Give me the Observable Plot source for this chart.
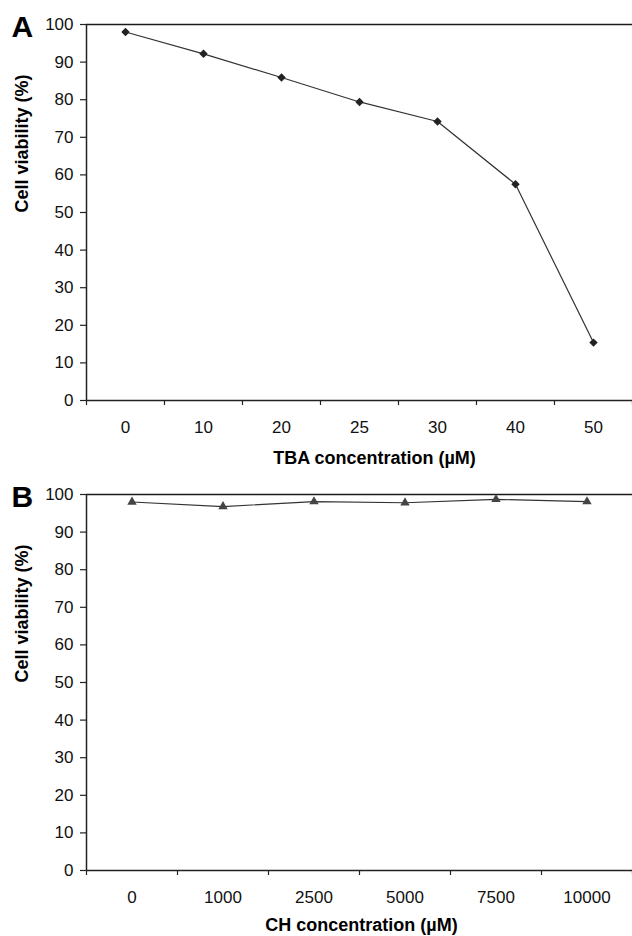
<!DOCTYPE html>
<html><head><meta charset="utf-8">
<script src="https://cdn.jsdelivr.net/npm/d3@7"></script>
<script src="https://cdn.jsdelivr.net/npm/@observablehq/plot@0.6"></script>
<style>
body{margin:0;background:#fff;}
#chart{width:632px;}
#chart svg{display:block;}
</style></head><body><div id="chart"></div>
<script>
const tbaConc = ["0","10","20","25","30","40","50"];
const tbaViability = [98.0, 92.2, 85.9, 79.4, 74.2, 57.5, 15.4];
const chConc = ["0","1000","2500","5000","7500","10000"];
const chViability = [98.0, 96.8, 98.1, 97.8, 98.7, 98.1];
const yTicks = [0,10,20,30,40,50,60,70,80,90,100];
const yTitle = "Cell viability (%)";
const xTitleA = "TBA concentration (µM)";
const xTitleB = "CH concentration (µM)";

function panel(o) {
  const n = o.cats.length;
  const data = o.cats.map((c,i)=>({i, c, v: o.vals[i]}));
  return Plot.plot({
    width: 632, height: o.height, marginTop: 24, marginLeft: 86, marginRight: 0, marginBottom: o.marginBottom,
    style: {fontFamily: "'Liberation Sans', Arial, sans-serif", fontSize: "17px", color: "#111", background: "#fff", overflow: "visible"},
    x: {domain: [-0.5, n-0.5], axis: null},
    y: {domain: [0,100], axis: null},
    marks: [
      Plot.ruleY([100], {stroke: "#1a1a1a", strokeWidth: 1.4}),
      Plot.ruleY([0], {stroke:"#222", strokeWidth:1.5}),
      Plot.ruleX([-0.5], {stroke:"#222", strokeWidth:1.5}),
      Plot.axisY({ticks: yTicks, tickSize: 6, tickPadding: 7, tickFormat: d=>String(d), stroke:"#222", strokeWidth: 1.2, label: null}),
      Plot.axisX({ticks: d3.range(n+1).map(i=>i-0.5), tickSize: 5, tickFormat: ()=>"", label: null, stroke:"#222", strokeWidth:1.2}),
      Plot.axisX({ticks: d3.range(n), tickSize: 0, tickPadding: 20, tickFormat: i=>o.cats[i], label:null}),
      Plot.line(data, {x:"i", y:"v", stroke:"#333", strokeWidth:1.2}),
      Plot.dot(data, {x:"i", y:"v", symbol: o.symbol, r: o.r, fill: o.fill, stroke:"none"}),
      Plot.text([o.letter], {frameAnchor:"top-left", text: d=>d, dx:-75, dy: 12.5, textAnchor:"start", lineAnchor:"bottom", fontSize: 30, fontWeight:"bold", fill:"#000"}),
      Plot.text([yTitle], {frameAnchor:"left", text: d=>d, rotate:-90, dx:-64, fontSize:18, fontWeight:"bold", fill:"#000"}),
      Plot.text([o.xTitle], {frameAnchor:"bottom", text: d=>d, dx: o.titleDx, dy: o.titleDy, lineAnchor:"bottom", fontSize: 18, fontWeight: "bold", fill:"#000"})
    ]
  });
}

const chart = document.getElementById("chart");
chart.append(panel({letter:"A", cats: tbaConc, vals: tbaViability, xTitle: xTitleA, symbol:"diamond2", r:3.8, fill:"#222", height:470, marginBottom:70, titleDx:15, titleDy:63}));
chart.append(panel({letter:"B", cats: chConc, vals: chViability, xTitle: xTitleB, symbol:"triangle", r:3.5, fill:"#444", height:466, marginBottom:66, titleDx:2, titleDy:60}));
</script></body></html>
